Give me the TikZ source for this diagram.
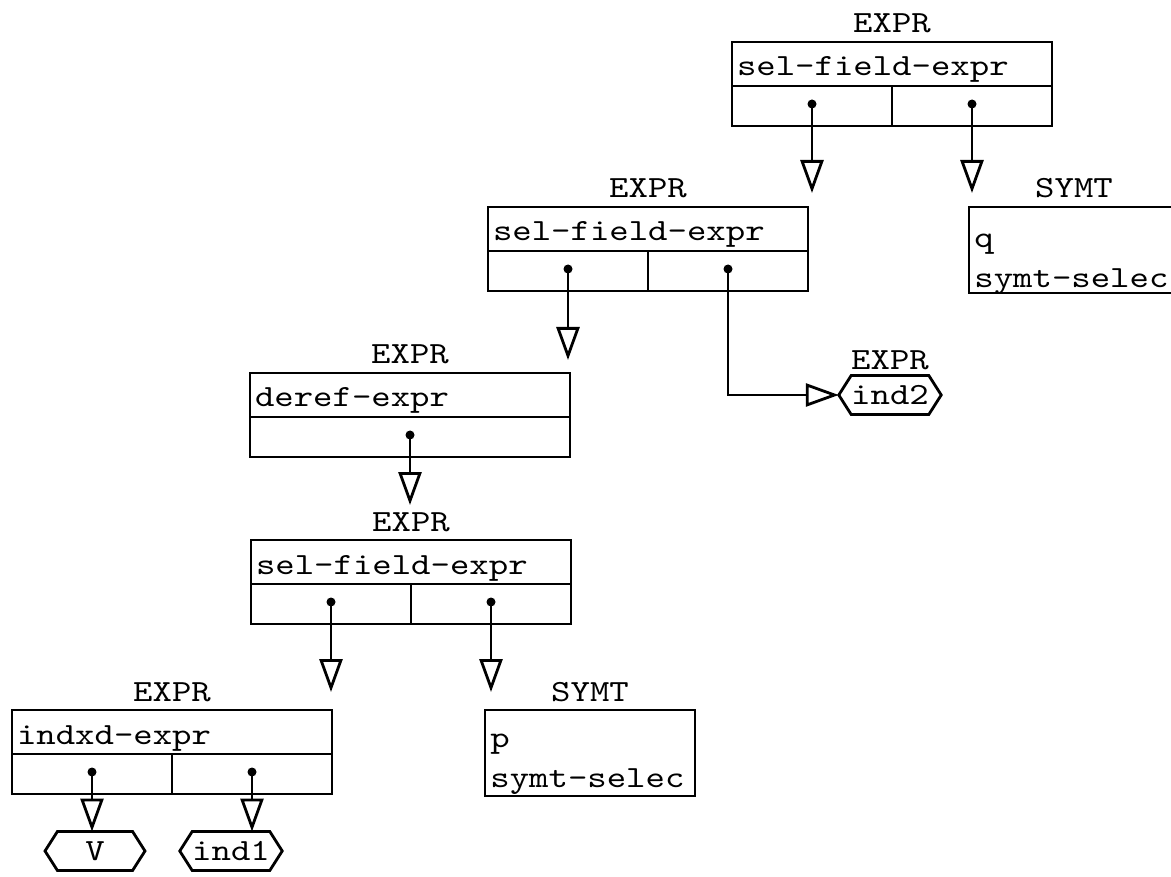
\documentclass[tikz,border=0pt]{standalone}
\usepackage{fontspec}
\setmonofont{lmmono10-regular.otf}[FakeStretch=1.2]
\usetikzlibrary{arrows.meta,shapes.symbols}

\newcommand\boxfont{\fontsize{30.8}{40}\selectfont\ttfamily}

\tikzset{
  hdr/.style={draw, anchor=north west, minimum width=320, minimum height=44,
    text width=310, inner xsep=5, inner ysep=0, outer sep=0, text height=28,
    text depth=4, align=left, font=\boxfont},
  cell/.style={draw, anchor=north west, minimum width=160, minimum height=40,
    inner sep=0, outer sep=0},
  symbox/.style={draw, anchor=north west, minimum width=210, minimum height=86,
    inner sep=0, outer sep=0},
  txt/.style={font=\boxfont, anchor=base west, inner sep=0},
  tag/.style={font=\boxfont, anchor=base, inner sep=0, yshift=9},
  leaf/.style={draw, shape=signal, signal to=east and west, signal pointer angle=115,
    minimum width=100, minimum height=38, inner xsep=0, inner ysep=10, outer sep=0,
    text height=19, text depth=0, font=\boxfont},
  dot/.style={circle, fill, inner sep=0, minimum size=9},
  ptr/.style={-{Triangle[open, width=23pt, length=33pt]}}
}

\begin{document}
\begin{tikzpicture}[x=1pt, y=-1pt, line width=2.8pt]
\useasboundingbox (0,0) rectangle (1171,877);

% -----------------------------
% Records
% -----------------------------
\node[hdr] (s1) at (732,42) {sel-field-expr};   % top record
\node[cell] (s1a) at (s1.south west) {};
\node[cell] (s1b) at (s1a.north east) {};
\node[tag] (l1) at (s1.north) {EXPR};

\node[hdr] (s2) at (488,207) {sel-field-expr};
\node[cell] (s2a) at (s2.south west) {};
\node[cell] (s2b) at (s2a.north east) {};
\node[tag] (l2) at (s2.north) {EXPR};

\node[hdr] (s3) at (250,373) {deref-expr};      % one field only
\node[cell, minimum width=320] (s3a) at (s3.south west) {};
\node[tag] (l3) at (s3.north) {EXPR};

\node[hdr] (s4) at (251,540) {sel-field-expr};
\node[cell] (s4a) at (s4.south west) {};
\node[cell] (s4b) at (s4a.north east) {};
\node[tag] (l4) at (s4.north) {EXPR};

\node[hdr] (s5) at (12,710) {indxd-expr};
\node[cell] (s5a) at (s5.south west) {};
\node[cell] (s5b) at (s5a.north east) {};
\node[tag] (l5) at (s5.north) {EXPR};

% -----------------------------
% Symbol table entries
% -----------------------------
\node[symbox] (symq) at (969,207) {};
\node[txt] (symq1) at ([xshift=4,yshift=-41]symq.north west) {q};
\node[txt] (symq2) at ([xshift=4,yshift=-81]symq.north west) {symt-selec};
\node[tag] (lq) at (symq.north) {SYMT};

\node[symbox] (symp) at (485,710) {};
\node[txt] (symp1) at ([xshift=4,yshift=-37]symp.north west) {p};
\node[txt] (symp2) at ([xshift=4,yshift=-77]symp.north west) {symt-selec};
\node[tag] (lp) at (symp.north) {SYMT};

% -----------------------------
% Leaves
% -----------------------------
\node[leaf] (ind2) at (890,395) {ind2};
\node[tag, yshift=-3] (l6) at (ind2.north) {EXPR};
\node[leaf] (V) at (95,851) {V};
\node[leaf] (ind1) at (231,851) {ind1};

% -----------------------------
% Pointers
% -----------------------------
\foreach \c in {s1a,s1b,s2a,s2b,s3a,s4a,s4b,s5a,s5b}
  \node[dot] (d\c) at ([yshift=2]\c.center) {};

\coordinate (t1a) at (ds1a.center |- 0,193);
\coordinate (t1b) at (ds1b.center |- 0,193);
\coordinate (t2a) at (ds2a.center |- 0,360);
\coordinate (t3a) at (ds3a.center |- 0,505);
\coordinate (t4a) at (ds4a.center |- 0,692);
\coordinate (t4b) at (ds4b.center |- 0,692);

\draw[ptr] (ds1a.center) -- (t1a);
\draw[ptr] (ds1b.center) -- (t1b);
\draw[ptr] (ds2a.center) -- (t2a);
\draw[ptr] (ds2b.center) |- (ind2.west);
\draw[ptr] (ds3a.center) -- (t3a);
\draw[ptr] (ds4a.center) -- (t4a);
\draw[ptr] (ds4b.center) -- (t4b);
\draw[ptr] (ds5a.center) -- (ds5a.center |- V.north);
\draw[ptr] (ds5b.center) -- (ds5b.center |- ind1.north);

\end{tikzpicture}
\end{document}
